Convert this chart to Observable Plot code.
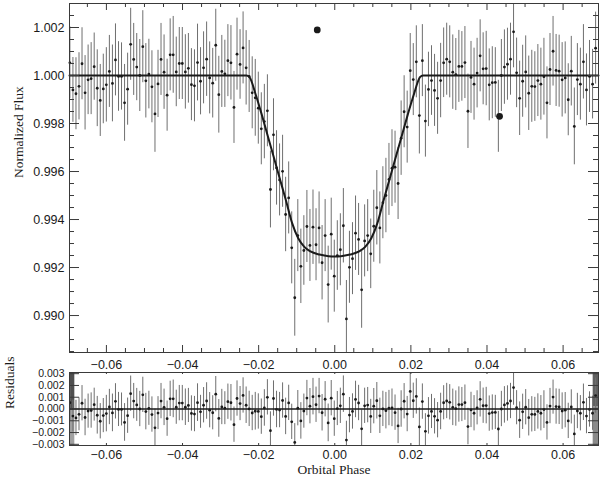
<!DOCTYPE html>
<html><head><meta charset="utf-8">
<script src="https://cdn.jsdelivr.net/npm/d3@7"></script>
<script src="https://cdn.jsdelivr.net/npm/@observablehq/plot@0.6"></script>
<style>
html,body{margin:0;padding:0;background:#fff;}
#wrap{position:relative;width:600px;height:479px;overflow:hidden;background:#fff;}
#wrap svg{position:absolute;left:0;}
</style></head><body><div id="wrap"></div>
<script>
const phase = [
-0.06960,-0.06880,-0.06800,-0.06720,-0.06641,-0.06561,-0.06481,-0.06401,-0.06321,-0.06241,
-0.06162,-0.06082,-0.06002,-0.05922,-0.05842,-0.05762,-0.05682,-0.05603,-0.05523,-0.05443,
-0.05363,-0.05283,-0.05203,-0.05123,-0.05044,-0.04964,-0.04884,-0.04804,-0.04724,-0.04644,
-0.04565,-0.04485,-0.04405,-0.04325,-0.04245,-0.04165,-0.04085,-0.04006,-0.03926,-0.03846,
-0.03766,-0.03686,-0.03606,-0.03527,-0.03447,-0.03367,-0.03287,-0.03207,-0.03127,-0.03047,
-0.02968,-0.02888,-0.02808,-0.02728,-0.02648,-0.02568,-0.02488,-0.02409,-0.02329,-0.02249,
-0.02169,-0.02089,-0.02009,-0.01930,-0.01850,-0.01770,-0.01690,-0.01610,-0.01530,-0.01450,
-0.01371,-0.01291,-0.01211,-0.01131,-0.01051,-0.00971,-0.00891,-0.00812,-0.00732,-0.00652,
-0.00572,-0.00492,-0.00412,-0.00333,-0.00253,-0.00173,-0.00093,-0.00013,0.00067,0.00147,
0.00226,0.00306,0.00386,0.00466,0.00546,0.00626,0.00706,0.00785,0.00865,0.00945,
0.01025,0.01105,0.01185,0.01264,0.01344,0.01424,0.01504,0.01584,0.01664,0.01744,
0.01823,0.01903,0.01983,0.02063,0.02143,0.02223,0.02302,0.02382,0.02462,0.02542,
0.02622,0.02702,0.02782,0.02861,0.02941,0.03021,0.03101,0.03181,0.03261,0.03340,
0.03420,0.03500,0.03580,0.03660,0.03740,0.03820,0.03899,0.03979,0.04059,0.04139,
0.04219,0.04299,0.04378,0.04458,0.04538,0.04618,0.04698,0.04778,0.04858,0.04937,
0.05017,0.05097,0.05177,0.05257,0.05337,0.05416,0.05496,0.05576,0.05656,0.05736,
0.05816,0.05896,0.05975,0.06055,0.06135,0.06215,0.06295,0.06375,0.06454,0.06534,
0.06614,0.06694,0.06774,0.06854];
const flux = [
1.00053,0.99940,0.99924,0.99955,1.00049,0.99928,0.99982,0.99987,1.00037,0.99947,
0.99896,0.99944,0.99961,1.00017,0.99967,1.00065,0.99996,0.99996,0.99886,0.99943,
1.00130,1.00067,1.00035,1.00000,1.00120,0.99978,1.00006,0.99953,0.99840,0.99965,
1.00067,1.00014,0.99918,1.00086,1.00086,1.00015,1.00050,1.00050,1.00015,1.00030,
0.99962,0.99957,1.00054,0.99976,1.00032,1.00068,0.99990,0.99968,1.00126,0.99920,
1.00017,1.00007,1.00062,1.00053,0.99867,1.00089,1.00046,1.00115,1.00032,0.99996,
0.99928,0.99907,0.99864,0.99778,0.99808,0.99853,0.99525,0.99753,0.99615,0.99565,
0.99601,0.99421,0.99490,0.99282,0.99074,0.99333,0.99205,0.99271,0.99371,0.99292,
0.99368,0.99295,0.99365,0.99220,0.99333,0.99129,0.99339,0.99164,0.99250,0.99274,
0.99374,0.98986,0.99201,0.99237,0.99343,0.99317,0.99107,0.99311,0.99333,0.99257,
0.99372,0.99449,0.99365,0.99470,0.99500,0.99567,0.99614,0.99618,0.99550,0.99739,
0.99849,0.99785,1.00020,0.99983,1.00057,0.99833,1.00062,0.99810,0.99942,0.99979,
0.99938,0.99905,0.99979,1.00053,1.00068,1.00057,1.00014,1.00004,1.00038,1.00038,
1.00054,0.99851,0.99992,0.99964,1.00010,1.00082,1.00028,1.00029,0.99961,0.99970,
0.99971,0.99830,1.00000,1.00035,1.00047,1.00068,1.00182,1.00011,0.99905,0.99976,
1.00015,0.99926,0.99955,0.99954,0.99979,0.99964,0.99995,0.99886,1.00025,1.00101,
1.00021,1.00018,0.99982,0.99990,0.99899,1.00018,0.99788,0.99983,0.99964,1.00057,
0.99940,0.99996,0.99964,1.00114];
const fluxErr = [
0.00150,0.00135,0.00150,0.00140,0.00150,0.00155,0.00145,0.00150,0.00140,0.00160,
0.00150,0.00145,0.00155,0.00150,0.00160,0.00150,0.00145,0.00140,0.00160,0.00150,
0.00150,0.00150,0.00140,0.00150,0.00150,0.00155,0.00145,0.00150,0.00160,0.00140,
0.00150,0.00155,0.00150,0.00150,0.00160,0.00145,0.00150,0.00150,0.00155,0.00145,
0.00150,0.00150,0.00160,0.00140,0.00150,0.00155,0.00150,0.00145,0.00150,0.00160,
0.00150,0.00140,0.00150,0.00155,0.00150,0.00150,0.00145,0.00150,0.00155,0.00150,
0.00150,0.00160,0.00150,0.00150,0.00155,0.00150,0.00160,0.00150,0.00155,0.00150,
0.00150,0.00155,0.00150,0.00150,0.00160,0.00150,0.00155,0.00145,0.00150,0.00150,
0.00155,0.00150,0.00150,0.00155,0.00150,0.00160,0.00150,0.00150,0.00145,0.00150,
0.00155,0.00160,0.00150,0.00150,0.00155,0.00150,0.00160,0.00150,0.00150,0.00145,
0.00150,0.00155,0.00150,0.00150,0.00155,0.00150,0.00160,0.00150,0.00150,0.00155,
0.00150,0.00150,0.00155,0.00150,0.00150,0.00160,0.00150,0.00150,0.00155,0.00145,
0.00150,0.00150,0.00155,0.00145,0.00150,0.00150,0.00155,0.00150,0.00150,0.00145,
0.00150,0.00155,0.00150,0.00150,0.00145,0.00150,0.00150,0.00155,0.00150,0.00150,
0.00145,0.00150,0.00150,0.00155,0.00150,0.00150,0.00150,0.00145,0.00155,0.00150,
0.00150,0.00155,0.00150,0.00145,0.00150,0.00150,0.00160,0.00150,0.00150,0.00145,
0.00150,0.00150,0.00155,0.00150,0.00150,0.00145,0.00160,0.00150,0.00150,0.00155,
0.00150,0.00150,0.00145,0.00150];
const residual = [
0.00053,-0.00060,-0.00076,-0.00045,0.00049,-0.00072,-0.00018,-0.00013,0.00037,-0.00053,
-0.00104,-0.00056,-0.00039,0.00017,-0.00033,0.00065,-0.00004,-0.00004,-0.00114,-0.00057,
0.00130,0.00067,0.00035,0.00000,0.00120,-0.00022,0.00006,-0.00047,-0.00160,-0.00035,
0.00067,0.00014,-0.00082,0.00086,0.00086,0.00015,0.00050,0.00050,0.00015,0.00030,
-0.00038,-0.00043,0.00054,-0.00024,0.00032,0.00068,-0.00010,-0.00032,0.00126,-0.00080,
0.00017,0.00007,0.00062,0.00053,-0.00133,0.00089,0.00046,0.00115,0.00032,0.00001,
-0.00034,-0.00019,-0.00021,-0.00065,0.00009,0.00099,-0.00184,0.00089,-0.00004,-0.00009,
0.00072,-0.00063,0.00052,-0.00109,-0.00284,0.00007,-0.00101,-0.00018,0.00093,0.00024,
0.00105,0.00036,0.00110,-0.00032,0.00083,-0.00118,0.00092,-0.00082,0.00004,0.00027,
0.00126,-0.00264,-0.00052,-0.00021,0.00081,0.00051,-0.00168,0.00027,0.00033,-0.00063,
0.00024,0.00070,-0.00058,0.00001,-0.00014,0.00008,0.00010,-0.00031,-0.00144,0.00000,
0.00066,-0.00043,0.00149,0.00070,0.00107,-0.00152,0.00063,-0.00190,-0.00058,-0.00021,
-0.00062,-0.00095,-0.00021,0.00053,0.00068,0.00057,0.00014,0.00004,0.00038,0.00038,
0.00054,-0.00149,-0.00008,-0.00036,0.00010,0.00082,0.00028,0.00029,-0.00039,-0.00030,
-0.00029,-0.00170,0.00000,0.00035,0.00047,0.00068,0.00182,0.00011,-0.00095,-0.00024,
0.00015,-0.00074,-0.00045,-0.00046,-0.00021,-0.00036,-0.00005,-0.00114,0.00025,0.00101,
0.00021,0.00018,-0.00018,-0.00010,-0.00101,0.00018,-0.00212,-0.00017,-0.00036,0.00057,
-0.00060,-0.00004,-0.00036,0.00114];
const modelPhase = [-0.0697,-0.0232,-0.0224,-0.0208,-0.0192,-0.0176,-0.0160,-0.0144,-0.0128,-0.0112,-0.0096,-0.0080,-0.0064,-0.0040,-0.0016,0,
  0.0016,0.0040,0.0064,0.0080,0.0096,0.0112,0.0128,0.0144,0.0160,0.0176,0.0192,0.0208,0.0224,0.0232,0.0693];
const modelFlux = [1,1,0.99993,0.99922,0.99838,0.99748,0.99658,0.99568,0.99478,0.99385,0.99322,0.99286,0.99267,0.99254,0.99247,0.99246,
  0.99247,0.99254,0.99267,0.99286,0.99322,0.99385,0.99478,0.99568,0.99658,0.99748,0.99838,0.99922,0.99993,1,1];
const markerPhase = [-0.0046, 0.0433];
const markerFlux = [1.0019, 0.9983];
const xMajor = [-0.06,-0.04,-0.02,0,0.02,0.04,0.06];
const xMinor = [-0.065,-0.055,-0.05,-0.045,-0.035,-0.03,-0.025,-0.015,-0.01,-0.005,0.005,0.01,0.015,0.025,0.03,0.035,0.045,0.05,0.055,0.065];
const yMajor = [0.990,0.992,0.994,0.996,0.998,1.000,1.002];
const yMinor = [0.9885,0.989,0.9895,0.9905,0.991,0.9915,0.9925,0.993,0.9935,0.9945,0.995,0.9955,0.9965,0.997,0.9975,0.9985,0.999,0.9995,1.0005,1.001,1.0015,1.0025];
const resMajor = [-0.003,-0.002,-0.001,0,0.001,0.002,0.003];
const bandX1 = [-0.0697,-0.0697,0.0679,0.0679];
const bandX2 = [-0.0683,-0.0683,0.0693,0.0693];
const bandY1 = [0,-0.0031,0.0002,-0.0031];
const bandY2 = [0.0031,0,0.0031,0.0002];
const bandFill = ["#505050","#a0a0a0","#606060","#8a8a8a"];

const pts = phase.map((p,i)=>({p, f: flux[i], e: fluxErr[i], r: residual[i]}));
const model = modelPhase.map((p,i)=>({p, f: modelFlux[i]}));
const markers = markerPhase.map((p,i)=>({p, f: markerFlux[i]}));
const bands = bandX1.map((x1,i)=>({x1, x2: bandX2[i], y1: bandY1[i], y2: bandY2[i], fill: bandFill[i]}));

const W=600, ml=69, mr=2, fw=W-ml-mr;
const sans = "'Liberation Sans', Arial, sans-serif";
const serif = "'Liberation Serif', 'Times New Roman', serif";
const ink = "#1a1a1a", frameC = "#3a3a3a", barC = "#6f6f6f";
const fmt2 = d3.format(".2f"), fmt3 = d3.format(".3f");

// main panel
const H1=372, mt1=3, mb1=20, fh1=H1-mt1-mb1;
const plot1 = Plot.plot({
  width: W, height: H1, marginLeft: ml, marginRight: mr, marginTop: mt1, marginBottom: mb1,
  style: {background: "transparent", fontFamily: sans, fontSize: "12.5px", color: ink, overflow: "visible"},
  x: {domain: [-0.0697, 0.0693], label: null},
  y: {domain: [0.98846, 1.003], label: null},
  marks: [
    Plot.ruleX(pts, {x: "p", y1: d=>d.f-d.e, y2: d=>d.f+d.e, stroke: barC, strokeWidth: 1, clip: true}),
    Plot.line(model, {x: "p", y: "f", stroke: ink, strokeWidth: 2, curve: "monotone-x"}),
    Plot.dot(pts, {x: "p", y: "f", r: 1.4, fill: ink, stroke: null}),
    Plot.dot(markers, {x: "p", y: "f", r: 3.4, fill: ink, stroke: null}),
    Plot.ruleX(xMajor, {x: d=>d, insetTop: fh1-7, stroke: frameC}),
    Plot.ruleX(xMajor, {x: d=>d, insetBottom: fh1-7, stroke: frameC}),
    Plot.ruleX(xMinor, {x: d=>d, insetTop: fh1-4, stroke: frameC}),
    Plot.ruleX(xMinor, {x: d=>d, insetBottom: fh1-4, stroke: frameC}),
    Plot.ruleY(yMajor, {y: d=>d, insetRight: fw-10, stroke: frameC}),
    Plot.ruleY(yMajor, {y: d=>d, insetLeft: fw-10, stroke: frameC}),
    Plot.ruleY(yMinor, {y: d=>d, insetRight: fw-5, stroke: frameC}),
    Plot.ruleY(yMinor, {y: d=>d, insetLeft: fw-5, stroke: frameC}),
    Plot.axisX(xMajor, {tickSize: 0, tickPadding: 8, tickFormat: fmt2, label: null, fill: ink}),
    Plot.axisY(yMajor, {tickSize: 0, tickPadding: 5, tickFormat: fmt3, label: null, fill: ink}),
    Plot.frame({stroke: frameC}),
    Plot.text(["Normalized Flux"], {frameAnchor: "left", rotate: -90, dx: -51, text: d=>d,
      fontFamily: serif, fontSize: 13.5, fill: ink, style: "letter-spacing:1px"})
  ]
});

// residual panel
const H2=119, mt2=12, mb2=34, fh2=H2-mt2-mb2;
const plot2 = Plot.plot({
  width: W, height: H2, marginLeft: ml, marginRight: mr, marginTop: mt2, marginBottom: mb2,
  style: {background: "transparent", fontFamily: sans, fontSize: "12.5px", color: ink, overflow: "visible"},
  x: {domain: [-0.0697, 0.0693], label: null},
  y: {domain: [-0.0031, 0.0031], label: null},
  marks: [
    Plot.rect(bands, {x1: "x1", x2: "x2", y1: "y1", y2: "y2", fill: "fill"}),
    Plot.ruleX(pts, {x: "p", y1: d=>d.r-d.e, y2: d=>d.r+d.e, stroke: barC, strokeWidth: 1, clip: true}),
    Plot.ruleY([0], {stroke: ink, strokeWidth: 1.6}),
    Plot.dot(pts, {x: "p", y: "r", r: 1.4, fill: ink, stroke: null, clip: true}),
    Plot.ruleX(xMajor, {x: d=>d, insetTop: fh2-2, stroke: frameC}),
    Plot.ruleX(xMajor, {x: d=>d, insetBottom: fh2-2, stroke: frameC}),
    Plot.ruleY(resMajor, {y: d=>d, insetRight: fw-10, stroke: frameC}),
    Plot.ruleY(resMajor, {y: d=>d, insetLeft: fw-10, stroke: frameC}),
    Plot.axisX(xMajor, {tickSize: 0, tickPadding: 5, tickFormat: fmt2, label: null, fill: ink}),
    Plot.axisY(resMajor, {tickSize: 0, tickPadding: 5, tickFormat: fmt3, label: null, fill: ink, fontSize: 10.5}),
    Plot.frame({stroke: frameC}),
    Plot.text(["Residuals"], {frameAnchor: "left", rotate: -90, dx: -60, text: d=>d,
      fontFamily: serif, fontSize: 13.5, fill: ink, style: "letter-spacing:1px"}),
    Plot.text(["Orbital Phase"], {frameAnchor: "bottom", dy: 28, text: d=>d,
      fontFamily: serif, fontSize: 13.5, fill: ink, style: "letter-spacing:1px"})
  ]
});

const wrap = document.getElementById("wrap");
plot1.style.top = "0px";
plot2.style.top = "360px";
wrap.appendChild(plot1);
wrap.appendChild(plot2);
</script>
</body></html>
